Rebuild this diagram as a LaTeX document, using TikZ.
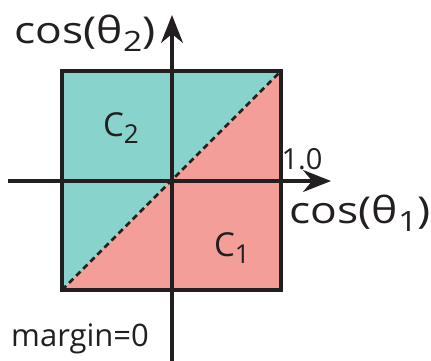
\documentclass[tikz,border=0pt]{standalone}
\usepackage{fontspec}
\setmainfont{Open Sans}
\newfontfamily\axfont[FakeStretch=1.2]{Open Sans}
\usetikzlibrary{arrows.meta}
\definecolor{cink}{HTML}{231F20}
\definecolor{cteal}{HTML}{88D3CC}
\definecolor{cpink}{HTML}{F49E9A}
\newcommand{\lowsub}[2]{\raisebox{-0.22em}{\fontsize{#2}{#2}\selectfont #1}}
\tikzset{
  axisln/.style={draw=cink, line width=3.1pt, -{Stealth[length=28pt,width=22pt]}},
  frame/.style={draw=cink, line width=3.2pt},
  split/.style={draw=cink, line width=2.8pt, dash pattern=on 6pt off 4pt},
  axlbl/.style={text=cink, inner sep=0pt, font=\axfont\fontsize{37}{40}\selectfont},
  clbl/.style={text=cink, inner sep=0pt, font=\fontsize{33}{35}\selectfont},
  tlbl/.style={text=cink, inner sep=0pt, font=\fontsize{29}{30}\selectfont},
}

\begin{document}
\begin{tikzpicture}[x=1pt, y=-1pt]
\useasboundingbox (0,0) rectangle (431,361);

% ================= corners of the square =================
\coordinate (sw) at (62,290);
\coordinate (ne) at (281,71);
\coordinate (nw) at (62,71);
\coordinate (se) at (281,290);

% ================= the two classes =================
\fill[cteal] (sw) -- (nw) -- (ne) -- cycle;
\fill[cpink] (sw) -- (se) -- (ne) -- cycle;
\draw[frame] (sw) rectangle (ne);

% ================= axes =================
\coordinate (xs) at (8,181);
\coordinate (xe) at (331,181);
\coordinate (ys) at (172,361);
\coordinate (ye) at (172,15);
\draw[axisln] (xs) -- (xe);
\draw[axisln] (ys) -- (ye);

% decision boundary
\draw[split] (sw) -- (ne);

% ================= labels =================
\node[axlbl] (laby) at (85,33) {cos(θ\lowsub{2}{28})};
\node[axlbl] (labx) at (360,213) {cos(θ\lowsub{1}{28})};
\node[tlbl] (one) at (302,159) {1.0};
\node[clbl] (ctwo) at (121,128) {C\lowsub{2}{26}};
\node[clbl] (cone) at (232,248) {C\lowsub{1}{26}};
\node[tlbl, font=\fontsize{31}{32}\selectfont, anchor=west] (marg) at (11,339) {margin=0};
\end{tikzpicture}
\end{document}
